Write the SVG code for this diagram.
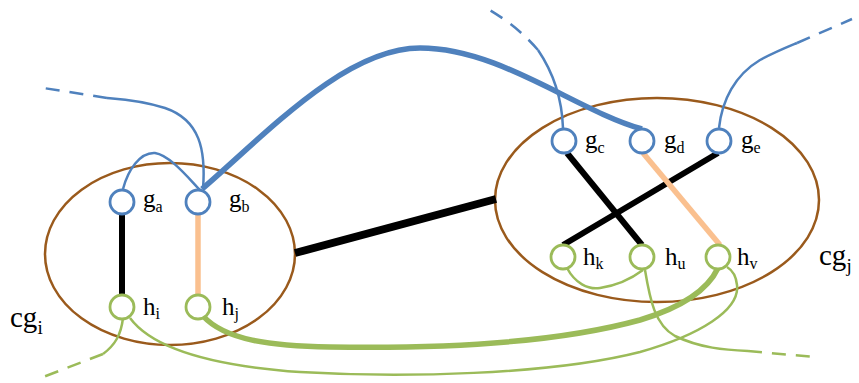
<svg xmlns="http://www.w3.org/2000/svg" width="859" height="383" viewBox="0 0 859 383" font-family="Liberation Serif">
<style>
.cg{fill:none;stroke:#9A5A1C;stroke-width:2.5}
.g{fill:#fff;stroke:#4F81BD;stroke-width:2.8}
.h{fill:#fff;stroke:#9BBB59;stroke-width:2.8}
.bl{fill:none;stroke:#000;stroke-width:6}
.pe{fill:none;stroke:#FAC08F;stroke-width:5.5}
.b1{fill:none;stroke:#4F81BD;stroke-width:2.5}
.b2{fill:none;stroke:#4F81BD;stroke-width:5.5}
.g1{fill:none;stroke:#9BBB59;stroke-width:2.5}
.g2{fill:none;stroke:#9BBB59;stroke-width:5.5}
.d{stroke-dasharray:14 10}
text{font-size:25px;fill:#000}
.s{font-size:16px}
.L{font-size:29px}
.Ls{font-size:19px}
</style>
<g id="cg_i"><ellipse class="cg" cx="170" cy="254" rx="125" ry="91"/>
<text x="10" y="327" class="L" font-family="Liberation Serif">cg<tspan class="Ls" dy="7">i</tspan></text></g>
<g id="cg_j"><ellipse class="cg" cx="657" cy="200" rx="162" ry="102"/>
<text x="819" y="265" class="L" font-family="Liberation Serif">cg<tspan class="Ls" dy="7">j</tspan></text></g>
<g id="connectors">
<line class="bl" x1="295" y1="253" x2="496" y2="199" style="stroke-width:8"/>
<line class="bl" x1="122" y1="214" x2="122" y2="295"/>
<line class="pe" x1="198" y1="214" x2="198" y2="295"/>
<line class="bl" x1="567" y1="153" x2="642" y2="245"/>
<line class="bl" x1="718" y1="153" x2="563" y2="245"/>
<line class="pe" x1="643" y1="153" x2="720" y2="245"/>
<path class="b2" d="M 202 189 C 265 135 345 48 420 48 C 500 48 575 110 642 129"/>
<path class="b1" d="M 123 189 C 128 170 140 152 155 153 C 170 155 190 180 200 190"/>
<path class="b1" d="M 203 189 C 206 150 200 120 165 108 C 140 100 120 99 107 98"/>
<path class="b1 d" d="M 107 98 L 37 87"/>
<path class="b1" d="M 563 128 C 562 100 555 75 538 50"/>
<path class="b1 d" d="M 538 50 C 525 35 510 22 488 9"/>
<path class="b1" d="M 719 128 C 722 100 735 75 760 60 C 775 52 785 48 797 43"/>
<path class="b1 d" d="M 797 43 L 852 19"/>
<path class="g1" d="M 567 268 C 575 283 588 290 600 288 C 620 285 635 276 643 270"/>
<path class="g1" d="M 645 270 C 650 300 655 325 675 336 C 700 348 725 350 748 351"/>
<path class="g1 d" d="M 748 351 L 815 357"/>
<path class="g2" d="M 203 316 C 225 340 270 346 330 347 C 450 349 560 342 640 320 C 690 305 710 285 718 268"/>
<path class="g1" d="M 130 318 C 150 345 200 365 300 372 C 400 378 550 375 640 352 C 700 335 740 310 737 285 C 736 275 732 270 727 267"/>
<path class="g1" d="M 123 318 C 121 335 115 345 103 354"/>
<path class="g1 d" d="M 103 354 L 38 379"/>
</g>
<g id="ga"><circle class="g" cx="122" cy="202" r="12"/><text x="143" y="207" font-family="Liberation Serif">g<tspan class="s" dy="5">a</tspan></text></g>
<g id="gb"><circle class="g" cx="198" cy="202" r="12"/><text x="229" y="207" font-family="Liberation Serif">g<tspan class="s" dy="5">b</tspan></text></g>
<g id="hi"><circle class="h" cx="122" cy="307" r="12"/><text x="143" y="315" font-family="Liberation Serif">h<tspan class="s" dy="4">i</tspan></text></g>
<g id="hj"><circle class="h" cx="198" cy="307" r="12"/><text x="222" y="315" font-family="Liberation Serif">h<tspan class="s" dy="4">j</tspan></text></g>
<g id="gc"><circle class="g" cx="564" cy="141" r="12"/><text x="585" y="148" font-family="Liberation Serif">g<tspan class="s" dy="5">c</tspan></text></g>
<g id="gd"><circle class="g" cx="642" cy="141" r="12"/><text x="664" y="148" font-family="Liberation Serif">g<tspan class="s" dy="5">d</tspan></text></g>
<g id="ge"><circle class="g" cx="719" cy="141" r="12"/><text x="741" y="148" font-family="Liberation Serif">g<tspan class="s" dy="5">e</tspan></text></g>
<g id="hk"><circle class="h" cx="563" cy="257" r="12"/><text x="583" y="265" font-family="Liberation Serif">h<tspan class="s" dy="4">k</tspan></text></g>
<g id="hu"><circle class="h" cx="642" cy="257" r="12"/><text x="665" y="265" font-family="Liberation Serif">h<tspan class="s" dy="4">u</tspan></text></g>
<g id="hv"><circle class="h" cx="718" cy="257" r="12"/><text x="737" y="265" font-family="Liberation Serif">h<tspan class="s" dy="4">v</tspan></text></g>
</svg>
